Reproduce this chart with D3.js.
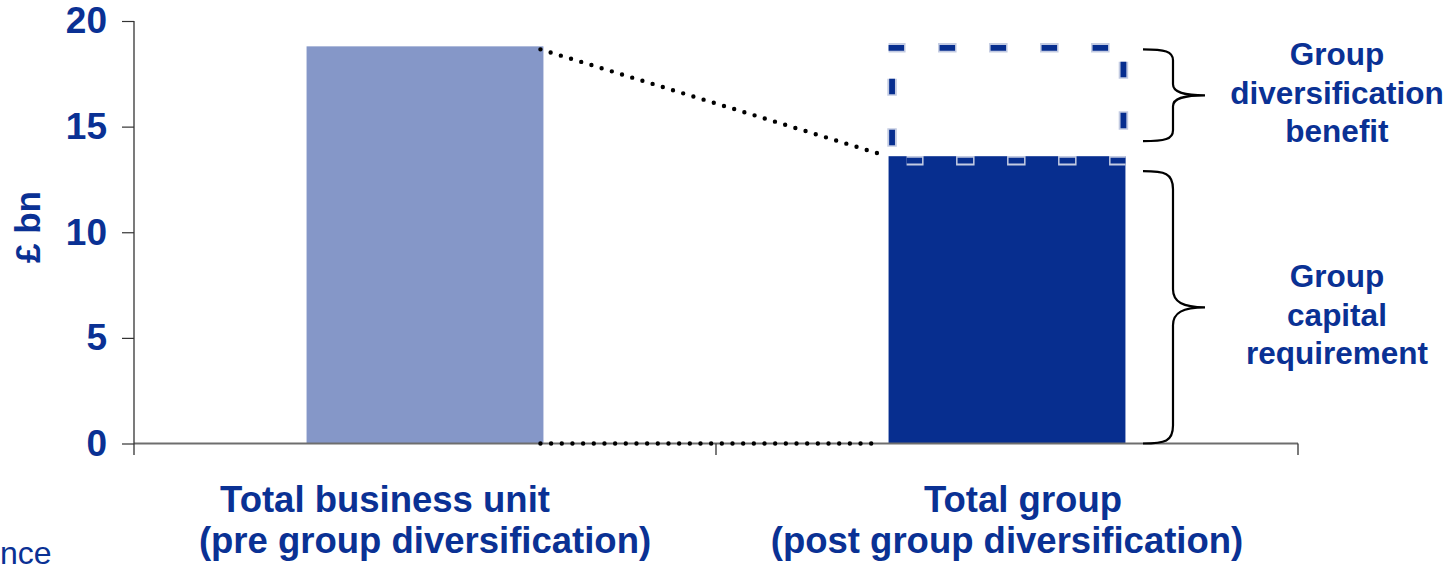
<!DOCTYPE html>
<html>
<head>
<meta charset="utf-8">
<script src="https://cdn.jsdelivr.net/npm/d3@7"></script>
<style>
  body { margin: 0; background: #ffffff; }
  svg text { font-family: "Liberation Sans", Arial, Helvetica, sans-serif; }
</style>
</head>
<body>
<svg id="chart" width="1450" height="577"></svg>
<script>
// ---- data -------------------------------------------------------------
const categories = ["Total business unit", "Total group"];
const categorySubtitles = ["(pre group diversification)", "(post group diversification)"];
const capitalValues = [18.8, 13.6];           // £ bn
const yTicks = [0, 5, 10, 15, 20];
const yAxisTitle = "£ bn";
const braceLabels = [
  ["Group", "diversification", "benefit"],
  ["Group", "capital", "requirement"]
];
const footnote = "nce";

// ---- styling ----------------------------------------------------------
const BLUE_TEXT = "#0a3194";
const BAR_COLORS = ["#8597c8", "#072e8f"];
const DASH_EDGE = "#c3cbe2";

const svg = d3.select("#chart");

const x = d3.scaleBand().domain(categories).range([134, 1298]).padding(0);
const y = d3.scaleLinear().domain([0, 20]).range([443.5, 21]);

const barW = x.bandwidth() * 0.407;
const barX = c => x(c) + (x.bandwidth() - barW) / 2;

// ---- bars -------------------------------------------------------------
svg.append("g")
  .selectAll("rect")
  .data(categories)
  .join("rect")
  .attr("x", c => barX(c))
  .attr("width", barW)
  .attr("y", (c, i) => y(capitalValues[i]))
  .attr("height", (c, i) => y(0) - y(capitalValues[i]))
  .attr("fill", (c, i) => BAR_COLORS[i]);

// ---- dashed outline for the diversification benefit -------------------
const gx = barX(categories[1]);
const bx0 = gx + 3.5, bx1 = gx + barW - 2;
const by0 = y(capitalValues[0]) + 1.5, by1 = y(capitalValues[1]) + 4.5;
const sides = [
  [bx0 - 3.5, by0, bx1 + 4, by0],      // top
  [bx1, by0 + 14, bx1, by1],           // right
  [bx0 + 14.5, by1, bx1 + 2, by1],     // bottom
  [bx0, by0 + 31, bx0, by1]            // left
];
const dashG = svg.append("g");
dashG.selectAll("line.edge")
  .data(sides)
  .join("line")
  .attr("class", "edge")
  .attr("x1", d => d[0]).attr("y1", d => d[1])
  .attr("x2", d => d[2]).attr("y2", d => d[3])
  .attr("stroke", DASH_EDGE)
  .attr("stroke-width", 9.5)
  .attr("stroke-dasharray", "18.5 32.5")
  .attr("stroke-dashoffset", 1.5);
dashG.selectAll("line.core")
  .data(sides)
  .join("line")
  .attr("class", "core")
  .attr("x1", d => d[0]).attr("y1", d => d[1])
  .attr("x2", d => d[2]).attr("y2", d => d[3])
  .attr("stroke", BAR_COLORS[1])
  .attr("stroke-width", 5.8)
  .attr("stroke-dasharray", "15.5 35.5");

// ---- axes -------------------------------------------------------------
const x0 = x.range()[0], xEnd = x.range()[1];
const axisG = svg.append("g");
// x baseline and band boundary ticks
axisG.append("line")
  .attr("x1", x0).attr("x2", xEnd)
  .attr("y1", y(0)).attr("y2", y(0))
  .attr("stroke", "#6e6e6e").attr("stroke-width", 2);
axisG.selectAll("line.xtick")
  .data([...categories.map(c => x(c)), xEnd].slice(1))
  .join("line")
  .attr("class", "xtick")
  .attr("x1", d => d).attr("x2", d => d)
  .attr("y1", y(0)).attr("y2", y(0) + 11.5)
  .attr("stroke", "#333").attr("stroke-width", 1.3);

// y axis
const yAxis = d3.axisLeft(y).tickValues(yTicks).tickSize(12).tickPadding(15);
const yG = svg.append("g").attr("transform", `translate(${x0},0)`).call(yAxis);
yG.select(".domain").remove();
yG.selectAll(".tick line").attr("stroke", "#333").attr("stroke-width", 1.2);
yG.selectAll(".tick text")
  .attr("fill", BLUE_TEXT)
  .style("font-size", "37px")
  .style("font-weight", "bold");
yG.append("line")
  .attr("x1", 0).attr("x2", 0)
  .attr("y1", y(20)).attr("y2", y(0) + 11.5)
  .attr("stroke", "#333").attr("stroke-width", 1.3);

svg.append("text")
  .attr("transform", `translate(40,227) rotate(-90)`)
  .attr("text-anchor", "middle")
  .attr("fill", BLUE_TEXT)
  .style("font-size", "35px")
  .style("font-weight", "bold")
  .text(yAxisTitle);

// ---- dotted connectors ------------------------------------------------
const b1Right = barX(categories[0]) + barW;
const b2Left = barX(categories[1]);
const connectors = [
  [b1Right - 3, y(capitalValues[0]) + 3, b2Left - 1.5, y(capitalValues[1])],
  [b1Right - 3, y(0), b2Left - 16, y(0)]
];
svg.append("g")
  .selectAll("line")
  .data(connectors)
  .join("line")
  .attr("x1", d => d[0]).attr("y1", d => d[1])
  .attr("x2", d => d[2]).attr("y2", d => d[3])
  .attr("stroke", "#000")
  .attr("stroke-width", 4.4)
  .attr("stroke-linecap", "round")
  .attr("stroke-dasharray", "0 10.67");

// ---- category labels --------------------------------------------------
const titleShift = [-40, 16];
const catG = svg.append("g")
  .attr("fill", BLUE_TEXT)
  .style("font-size", "36.5px")
  .style("font-weight", "bold")
  .attr("text-anchor", "middle");
categories.forEach((c, i) => {
  const cx = x(c) + x.bandwidth() / 2;
  catG.append("text").attr("x", cx + titleShift[i]).attr("y", 512).text(c);
  catG.append("text").attr("x", cx).attr("y", 553).text(categorySubtitles[i]);
});

// ---- braces with annotations -----------------------------------------
function bracePath(xTip, ya, yb, xs, xp, r) {
  const ym = (ya + yb) / 2;
  const k = 0.3 * (xp - xs);
  return `M${xTip},${ya} C${xs - 8},${ya} ${xs},${ya + 2} ${xs},${ya + r}` +
    ` L${xs},${ym - r} C${xs},${ym - 0.3 * r} ${xs + k},${ym} ${xp},${ym}` +
    ` C${xs + k},${ym} ${xs},${ym + 0.3 * r} ${xs},${ym + r}` +
    ` L${xs},${yb - r} C${xs},${yb - 2} ${xs - 8},${yb} ${xTip},${yb}`;
}
const braces = [
  { ya: y(capitalValues[0]) + 3, yb: y(capitalValues[1]) - 15, r: 11, textDy: -30 },
  { ya: y(capitalValues[1]) + 15, yb: y(0), r: 18, textDy: -20 }
];
const braceG = svg.append("g");
braces.forEach((b, i) => {
  braceG.append("path")
    .attr("d", bracePath(1143, b.ya, b.yb, 1173, 1205, b.r))
    .attr("fill", "none")
    .attr("stroke", "#000")
    .attr("stroke-width", 2.2);
  const ym = (b.ya + b.yb) / 2;
  const t = braceG.append("text")
    .attr("text-anchor", "middle")
    .attr("fill", BLUE_TEXT)
    .style("font-size", "31.5px")
    .style("font-weight", "bold");
  braceLabels[i].forEach((line, j) => {
    t.append("tspan").attr("x", 1337).attr("y", ym + b.textDy + j * 38.5).text(line);
  });
});

// ---- footnote fragment -----------------------------------------------
svg.append("text")
  .attr("x", 0).attr("y", 564)
  .attr("fill", BLUE_TEXT)
  .style("font-size", "32px")
  .text(footnote);
</script>
</body>
</html>
